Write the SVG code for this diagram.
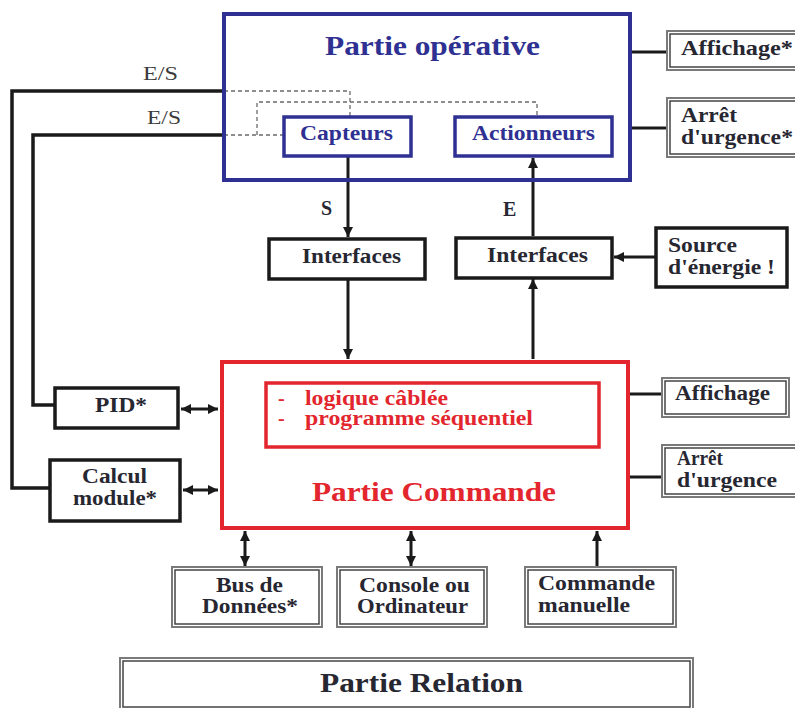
<svg xmlns="http://www.w3.org/2000/svg" width="795" height="708" viewBox="0 0 795 708">
<defs>
<style>
text{font-family:"Liberation Serif","Times New Roman",serif;font-weight:bold;fill:#272732;}
.lbl{font-size:20px;}
.big{font-size:27px;}
.blue{fill:#2e3192;}
.red{fill:#e3262e;}
.reg{font-weight:normal;font-size:19px;fill:#3a3a3a;}
.bx{fill:#fff;stroke:#1a1a1a;stroke-width:3.5;}
.dbo{fill:#fff;stroke:#7a7a7a;stroke-width:2;}
.dbi{fill:none;stroke:#444;stroke-width:1.5;}
.ln{fill:none;stroke:#1a1a1a;stroke-width:3;}
.thick{fill:none;stroke:#1a1a1a;stroke-width:3.5;}
.dash{fill:none;stroke:#6a6a6a;stroke-width:1.3;stroke-dasharray:4 3;}
</style>
<marker id="ah" viewBox="0 0 10 10" refX="10" refY="5" markerWidth="10" markerHeight="10" markerUnits="userSpaceOnUse" orient="auto-start-reverse">
<path d="M0,0 L10,5 L0,10 z" fill="#1a1a1a"/>
</marker>
</defs>
<rect width="795" height="708" fill="#fff"/>

<g id="connectors">
<polyline class="thick" points="224,91 12,91 12,488 49,488"/>
<polyline class="thick" points="224,135 33,135 33,405 54,405"/>
<polyline class="dash" points="224,91 350,91 350,116"/>
<polyline class="dash" points="224,135 283,135"/>
<polyline class="dash" points="257,135 257,102 537,102 537,116"/>
<line class="ln" x1="631" y1="52" x2="667" y2="52"/>
<line class="ln" x1="631" y1="128" x2="667" y2="128"/>
<line class="ln" x1="629" y1="394" x2="662" y2="394"/>
<line class="ln" x1="629" y1="477" x2="662" y2="477"/>
<line class="ln" x1="348" y1="157" x2="348" y2="237" marker-end="url(#ah)"/>
<line class="ln" x1="348" y1="280" x2="348" y2="359" marker-end="url(#ah)"/>
<line class="ln" x1="533" y1="359" x2="533" y2="279" marker-end="url(#ah)"/>
<line class="ln" x1="533" y1="236" x2="533" y2="158" marker-end="url(#ah)"/>
<line class="ln" x1="655" y1="257" x2="614" y2="257" marker-end="url(#ah)"/>
<line class="ln" x1="181" y1="409" x2="218" y2="409" marker-start="url(#ah)" marker-end="url(#ah)"/>
<line class="ln" x1="183" y1="490" x2="218" y2="490" marker-start="url(#ah)" marker-end="url(#ah)"/>
<line class="ln" x1="245" y1="531" x2="245" y2="566" marker-start="url(#ah)" marker-end="url(#ah)"/>
<line class="ln" x1="411" y1="531" x2="411" y2="566" marker-start="url(#ah)" marker-end="url(#ah)"/>
<line class="ln" x1="597" y1="566" x2="597" y2="531" marker-end="url(#ah)"/>
<text class="reg" x="143" y="80" textLength="35" lengthAdjust="spacingAndGlyphs">E/S</text>
<text class="reg" x="147" y="124" textLength="34" lengthAdjust="spacingAndGlyphs">E/S</text>
<text class="lbl" x="321" y="215">S</text>
<text class="lbl" x="503" y="216">E</text>
</g>

<g id="partie-operative">
<rect x="224" y="14" width="406" height="166" fill="none" stroke="#2e3192" stroke-width="4"/>
<text class="big blue" x="325" y="55" textLength="215" lengthAdjust="spacingAndGlyphs">Partie opérative</text>
</g>
<g id="capteurs">
<rect x="284" y="117" width="127" height="39" fill="#fff" stroke="#2e3192" stroke-width="3.5"/>
<text class="lbl blue" x="300" y="140" textLength="93" lengthAdjust="spacingAndGlyphs">Capteurs</text>
</g>
<g id="actionneurs">
<rect x="455" y="117" width="157" height="39" fill="#fff" stroke="#2e3192" stroke-width="3.5"/>
<text class="lbl blue" x="472" y="140" textLength="123" lengthAdjust="spacingAndGlyphs">Actionneurs</text>
</g>

<g id="affichage-po">
<rect class="dbo" x="667" y="31" width="135" height="39"/>
<rect class="dbi" x="670" y="34" width="135" height="33"/>
<text class="lbl" x="681" y="55" textLength="112" lengthAdjust="spacingAndGlyphs">Affichage*</text>
</g>
<g id="arret-po">
<rect class="dbo" x="667" y="98" width="135" height="59"/>
<rect class="dbi" x="670" y="101" width="135" height="53"/>
<text class="lbl" x="681" y="122" textLength="56" lengthAdjust="spacingAndGlyphs">Arrêt</text>
<text class="lbl" x="681" y="144" textLength="112" lengthAdjust="spacingAndGlyphs">d'urgence*</text>
</g>

<g id="interfaces-s">
<rect class="bx" x="269" y="239" width="156" height="40"/>
<text class="lbl" x="302" y="263" textLength="99" lengthAdjust="spacingAndGlyphs">Interfaces</text>
</g>
<g id="interfaces-e">
<rect class="bx" x="456" y="238" width="156" height="40"/>
<text class="lbl" x="487" y="262" textLength="101" lengthAdjust="spacingAndGlyphs">Interfaces</text>
</g>
<g id="source-energie">
<rect class="bx" x="656" y="228" width="131" height="59"/>
<text class="lbl" x="668" y="252" textLength="69" lengthAdjust="spacingAndGlyphs">Source</text>
<text class="lbl" x="668" y="274" textLength="107" lengthAdjust="spacingAndGlyphs">d'énergie !</text>
</g>

<g id="partie-commande">
<rect x="222" y="362" width="406" height="166" fill="none" stroke="#e3262e" stroke-width="4"/>
<rect x="266" y="383" width="333" height="64" fill="none" stroke="#e3262e" stroke-width="3.5"/>
<text class="lbl red" x="278" y="405">-</text>
<text class="lbl red" x="305" y="405" textLength="143" lengthAdjust="spacingAndGlyphs">logique câblée</text>
<text class="lbl red" x="278" y="425">-</text>
<text class="lbl red" x="305" y="425" textLength="228" lengthAdjust="spacingAndGlyphs">programme séquentiel</text>
<text class="big red" x="312" y="501" textLength="244" lengthAdjust="spacingAndGlyphs">Partie Commande</text>
</g>

<g id="pid">
<rect class="bx" x="55" y="388" width="123" height="40"/>
<text class="lbl" x="95" y="412" textLength="52" lengthAdjust="spacingAndGlyphs">PID*</text>
</g>
<g id="calcul-module">
<rect class="bx" x="50" y="460" width="130" height="61"/>
<text class="lbl" x="82" y="483" textLength="65" lengthAdjust="spacingAndGlyphs">Calcul</text>
<text class="lbl" x="73" y="505" textLength="84" lengthAdjust="spacingAndGlyphs">module*</text>
</g>

<g id="affichage-pc">
<rect class="dbo" x="662" y="378" width="127" height="39"/>
<rect class="dbi" x="665" y="381" width="121" height="33"/>
<text class="lbl" x="675" y="400" textLength="95" lengthAdjust="spacingAndGlyphs">Affichage</text>
</g>
<g id="arret-pc">
<rect class="dbo" x="662" y="445" width="135" height="52"/>
<rect class="dbi" x="665" y="448" width="135" height="46"/>
<text class="lbl" x="677" y="465" textLength="46" lengthAdjust="spacingAndGlyphs">Arrêt</text>
<text class="lbl" x="677" y="487" textLength="100" lengthAdjust="spacingAndGlyphs">d'urgence</text>
</g>

<g id="bus-donnees">
<rect class="dbo" x="172" y="567" width="150" height="60"/>
<rect class="dbi" x="175" y="570" width="144" height="54"/>
<text class="lbl" x="216" y="592" textLength="67" lengthAdjust="spacingAndGlyphs">Bus de</text>
<text class="lbl" x="202" y="613" textLength="96" lengthAdjust="spacingAndGlyphs">Données*</text>
</g>
<g id="console">
<rect class="dbo" x="337" y="567" width="150" height="60"/>
<rect class="dbi" x="340" y="570" width="144" height="54"/>
<text class="lbl" x="359" y="592" textLength="111" lengthAdjust="spacingAndGlyphs">Console ou</text>
<text class="lbl" x="357" y="613" textLength="111" lengthAdjust="spacingAndGlyphs">Ordinateur</text>
</g>
<g id="commande-manuelle">
<rect class="dbo" x="525" y="567" width="151" height="60"/>
<rect class="dbi" x="528" y="570" width="145" height="54"/>
<text class="lbl" x="538" y="590" textLength="117" lengthAdjust="spacingAndGlyphs">Commande</text>
<text class="lbl" x="538" y="612" textLength="92" lengthAdjust="spacingAndGlyphs">manuelle</text>
</g>

<g id="partie-relation">
<rect class="dbo" x="120" y="658" width="573" height="52"/>
<rect class="dbi" x="123" y="661" width="567" height="46"/>
<text class="big" x="320" y="692" textLength="203" lengthAdjust="spacingAndGlyphs">Partie Relation</text>
</g>
</svg>
